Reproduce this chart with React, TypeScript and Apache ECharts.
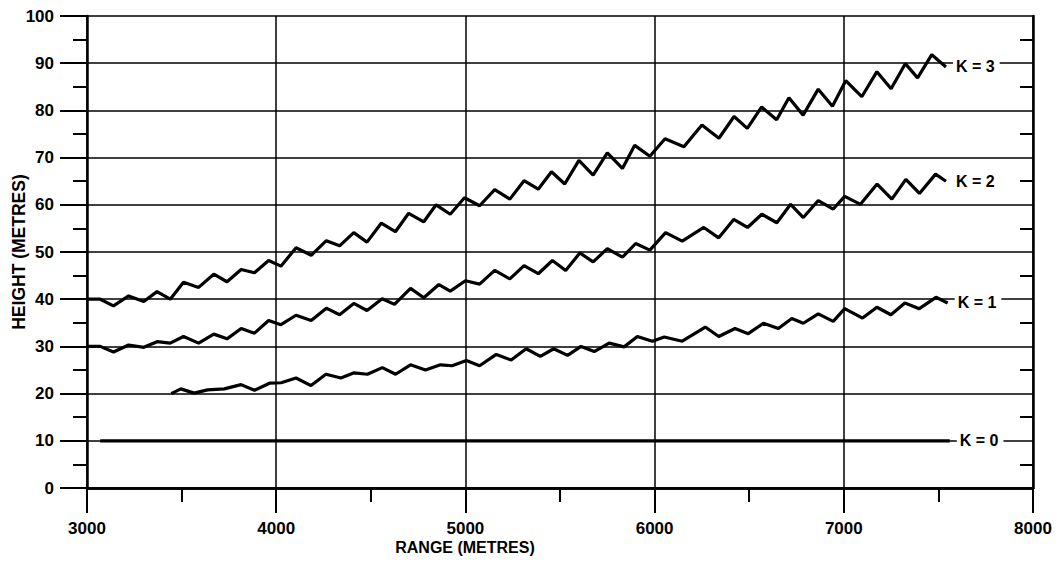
import React, { useEffect, useRef } from "react";
import * as echarts from "echarts";

const xTicks = [3000, 4000, 5000, 6000, 7000, 8000];
const yTicks = [0, 10, 20, 30, 40, 50, 60, 70, 80, 90, 100];

const k3: [number, number][] = [
  [3000, 40], [3070, 40], [3140, 38.6], [3220, 40.7], [3300, 39.5], [3370, 41.6], [3440, 40.0],
  [3510, 43.6], [3590, 42.5], [3670, 45.3], [3740, 43.7], [3815, 46.3], [3885, 45.6], [3960, 48.2],
  [4025, 47.0], [4105, 50.9], [4185, 49.3], [4265, 52.4], [4335, 51.3], [4410, 54.1], [4480, 52.1],
  [4555, 56.1], [4630, 54.3], [4700, 58.2], [4780, 56.4], [4845, 60.0], [4920, 58.0], [4995, 61.5],
  [5075, 59.8], [5155, 63.2], [5235, 61.2], [5310, 65.1], [5385, 63.3], [5455, 67.0], [5525, 64.4],
  [5600, 69.4], [5675, 66.3], [5750, 71.0], [5830, 67.7], [5895, 72.6], [5975, 70.3], [6055, 74.0],
  [6155, 72.3], [6250, 76.9], [6340, 74.1], [6420, 78.7], [6490, 76.2], [6565, 80.7], [6645, 78.0],
  [6710, 82.7], [6785, 79.0], [6865, 84.5], [6940, 80.9], [7010, 86.3], [7095, 82.9], [7175, 88.2],
  [7250, 84.6], [7325, 89.9], [7390, 86.9], [7465, 91.8], [7540, 89.2],
];

const k2: [number, number][] = [
  [3000, 30], [3070, 30], [3140, 28.8], [3220, 30.3], [3300, 29.8], [3370, 31.0], [3440, 30.7],
  [3510, 32.1], [3590, 30.7], [3670, 32.6], [3740, 31.6], [3815, 33.8], [3885, 32.8], [3960, 35.5],
  [4025, 34.6], [4105, 36.6], [4185, 35.5], [4265, 38.1], [4335, 36.7], [4410, 39.1], [4480, 37.6],
  [4560, 40.1], [4625, 38.9], [4710, 42.3], [4780, 40.3], [4860, 43.1], [4920, 41.7], [5000, 43.9],
  [5075, 43.2], [5155, 46.1], [5235, 44.3], [5310, 47.1], [5385, 45.4], [5460, 48.2], [5530, 46.1],
  [5605, 49.8], [5675, 47.9], [5750, 50.7], [5830, 48.9], [5900, 51.8], [5975, 50.4], [6058, 54.1],
  [6146, 52.3], [6260, 55.2], [6339, 53.0], [6418, 56.9], [6491, 55.2], [6567, 58.0], [6646, 56.2],
  [6719, 60.1], [6786, 57.3], [6865, 60.9], [6944, 59.1], [7005, 61.8], [7088, 60.1], [7176, 64.4],
  [7254, 61.2], [7328, 65.4], [7400, 62.4], [7485, 66.5], [7540, 65.0],
];

const k1: [number, number][] = [
  [3445, 20], [3496, 21.0], [3566, 20.1], [3637, 20.8], [3726, 21.0], [3814, 21.9], [3885, 20.7],
  [3965, 22.2], [4026, 22.3], [4105, 23.3], [4184, 21.7], [4263, 24.1], [4342, 23.3], [4412, 24.4],
  [4482, 24.1], [4561, 25.5], [4631, 24.1], [4710, 26.1], [4789, 25.0], [4868, 26.1], [4930, 25.9],
  [5005, 27.0], [5075, 25.9], [5163, 28.3], [5242, 27.1], [5321, 29.5], [5396, 27.9], [5467, 29.5],
  [5540, 28.1], [5611, 30.0], [5681, 28.9], [5760, 30.7], [5839, 29.9], [5909, 32.1], [5988, 31.1],
  [6051, 32.0], [6146, 31.1], [6268, 34.1], [6339, 32.1], [6425, 33.8], [6495, 32.7], [6575, 34.9],
  [6654, 33.8], [6725, 35.9], [6786, 34.9], [6865, 36.9], [6944, 35.3], [7005, 38.0], [7099, 36.0],
  [7175, 38.3], [7249, 36.7], [7323, 39.2], [7399, 38.0], [7487, 40.4], [7549, 39.2],
];

const k0: [number, number][] = [[3070, 10], [7560, 10]];

const seriesNames = ["K = 3", "K = 2", "K = 1", "K = 0"];
const seriesData = [k3, k2, k1, k0];

const FONT = "'Liberation Sans', Arial, sans-serif";

export default function App() {
  const ref = useRef<HTMLDivElement>(null);
  useEffect(() => {
    if (!ref.current) return;
    const chart = echarts.init(ref.current, undefined, { renderer: "svg" });
    const labelStyle = { color: "#000", fontFamily: FONT, fontWeight: "bold" as const, fontSize: 17 };
    chart.setOption({
      animation: false,
      backgroundColor: "#fff",
      grid: { left: 87, right: 26, top: 16, bottom: 76, containLabel: false, outerBoundsMode: "none" },
      xAxis: [
        {
          type: "value",
          min: xTicks[0],
          max: xTicks[xTicks.length - 1],
          interval: 1000,
          name: "RANGE (METRES)",
          nameLocation: "middle",
          nameGap: 51,
          nameMoveOverlap: false,
          nameTextStyle: { color: "#000", fontFamily: FONT, fontWeight: "bold", fontSize: 16, padding: [0, 190, 0, 0] },
          axisLine: { show: true, lineStyle: { color: "#000", width: 2.5 } },
          axisTick: { show: true, inside: false, length: 25, lineStyle: { color: "#000", width: 2 } },
          minorTick: { show: true, splitNumber: 2, length: 14, lineStyle: { color: "#000", width: 2 } },
          axisLabel: { ...labelStyle, margin: 32, formatter: (v: number) => String(v) },
          splitLine: { show: true, lineStyle: { color: "#000", width: 1.5 } },
          minorSplitLine: { show: false },
        },
        {
          type: "value",
          position: "top",
          min: xTicks[0],
          max: xTicks[xTicks.length - 1],
          interval: 1000,
          axisLine: { show: true, lineStyle: { color: "#000", width: 2.5 } },
          axisTick: { show: false, inside: true },
          minorTick: { show: true, splitNumber: 2, length: 13, lineStyle: { color: "#000", width: 2 } },
          axisLabel: { show: false },
          splitLine: { show: false },
        },
      ],
      yAxis: [
        {
          type: "value",
          min: yTicks[0],
          max: yTicks[yTicks.length - 1],
          interval: 10,
          name: "HEIGHT (METRES)",
          nameLocation: "middle",
          nameGap: 59,
          nameMoveOverlap: false,
          nameRotate: 90,
          nameTextStyle: { color: "#000", fontFamily: FONT, fontWeight: "bold", fontSize: 17.5 },
          axisLine: { show: true, lineStyle: { color: "#000", width: 2.5 } },
          axisTick: { show: true, inside: false, length: 27, lineStyle: { color: "#000", width: 2 } },
          minorTick: { show: true, splitNumber: 2, length: 14, lineStyle: { color: "#000", width: 2 } },
          axisLabel: { ...labelStyle, margin: 33 },
          splitLine: { show: true, lineStyle: { color: "#000", width: 1.5 } },
        },
        {
          type: "value",
          position: "right",
          min: yTicks[0],
          max: yTicks[yTicks.length - 1],
          interval: 10,
          axisLine: { show: true, lineStyle: { color: "#000", width: 2.5 } },
          axisTick: { show: false, inside: true },
          minorTick: { show: true, splitNumber: 2, length: 13, lineStyle: { color: "#000", width: 2 } },
          axisLabel: { show: false },
          splitLine: { show: false },
        },
      ],
      series: seriesData.map((d, i) => ({
        type: "line",
        name: seriesNames[i],
        data: d,
        symbol: "none",
        smooth: false,
        lineStyle: { color: "#000", width: 3.2 },
        endLabel: {
          show: true,
          formatter: seriesNames[i],
          color: "#000",
          fontFamily: FONT,
          fontWeight: "bold",
          fontSize: 16,
          distance: 7,
          backgroundColor: "#fff",
          padding: [2, 5, 2, 3],
        },
      })),
    });
    return () => chart.dispose();
  }, []);
  return (
    <div
      ref={ref}
      style={{ position: "fixed", left: 0, top: 0, width: 1059, height: 564 }}
    />
  );
}
